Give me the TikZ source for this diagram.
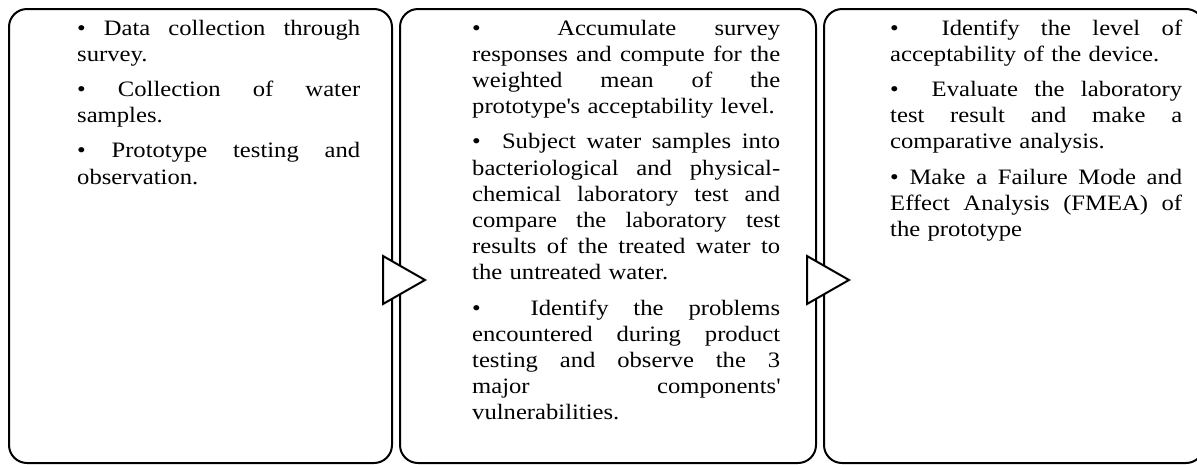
\documentclass[tikz,border=0pt]{standalone}
\usepackage{fontspec}
\setmainfont{Liberation Serif}[FakeStretch=1.12]
\usetikzlibrary{positioning,calc}

% one justified line of a step list
\newcommand{\jline}[1]{\leavevmode\hbox to\hsize{\spaceskip=.25em plus 1fil\relax#1}\\}

\begin{document}
\begin{tikzpicture}[x=1pt,y=1pt,
  panel/.style={draw,line width=2pt,rounded corners=18pt,inner sep=0pt,anchor=north west},
  steptext/.style={anchor=base west,inner sep=0pt,align=left,
    font=\fontsize{22}{26.2}\selectfont},
  flowtri/.style={draw,line width=2pt,fill=white,line join=miter}]

\useasboundingbox (0,0) rectangle (1197,-464);

%====================================================
% Box 1 : data gathering
%====================================================
\node[panel,minimum width=383pt,minimum height=454pt] (box1) at (8,-8) {};

\node[steptext,text width=283pt] (txt1) at ($(box1.north west)+(69,-27)$)
{\jline{•\ Data collection through}
survey.\\[9pt]
\jline{•\ Collection of water}
samples.\\[9pt]
\jline{•\ Prototype testing and}
observation.};

%====================================================
% Box 2 : data processing
%====================================================
\node[panel,minimum width=416pt,minimum height=454pt] (box2) at (399,-8) {};

\node[steptext,text width=308pt] (txt2) at ($(box2.north west)+(73,-27)$)
{\jline{•\ \ Accumulate survey}
\jline{responses and compute for the}
\jline{weighted mean of the}
prototype\textquotesingle s acceptability level.\\[9pt]
\jline{•\ \ Subject water samples into}
\jline{bacteriological and physical-}
\jline{chemical laboratory test and}
\jline{compare the laboratory test}
\jline{results of the treated water to}
the untreated water.\\[9pt]
\jline{•\ \ Identify the problems}
\jline{encountered during product}
\jline{testing and observe the 3}
\jline{major components\textquotesingle}
vulnerabilities.};

%====================================================
% Box 3 : analysis
%====================================================
\node[panel,minimum width=380pt,minimum height=454pt] (box3) at (823,-8) {};

\node[steptext,text width=292pt] (txt3) at ($(box3.north west)+(67,-27)$)
{\jline{•\ \ Identify the level of}
acceptability of the device.\\[9pt]
\jline{•\ \ Evaluate the laboratory}
\jline{test result and make a}
comparative analysis.\\[9pt]
\jline{•\ Make a Failure Mode and}
\jline{Effect Analysis (FMEA) of}
the prototype};

% Arrows
% Box 1 -> Box 2
\draw[flowtri] ($(box1.east)+(-10,-20)$) -- ++(42,-24) -- ++(-42,-24) -- cycle;

% Box 2 -> Box 3
\draw[flowtri] ($(box2.east)+(-10,-20)$) -- ++(42,-24) -- ++(-42,-24) -- cycle;

\end{tikzpicture}
\end{document}
